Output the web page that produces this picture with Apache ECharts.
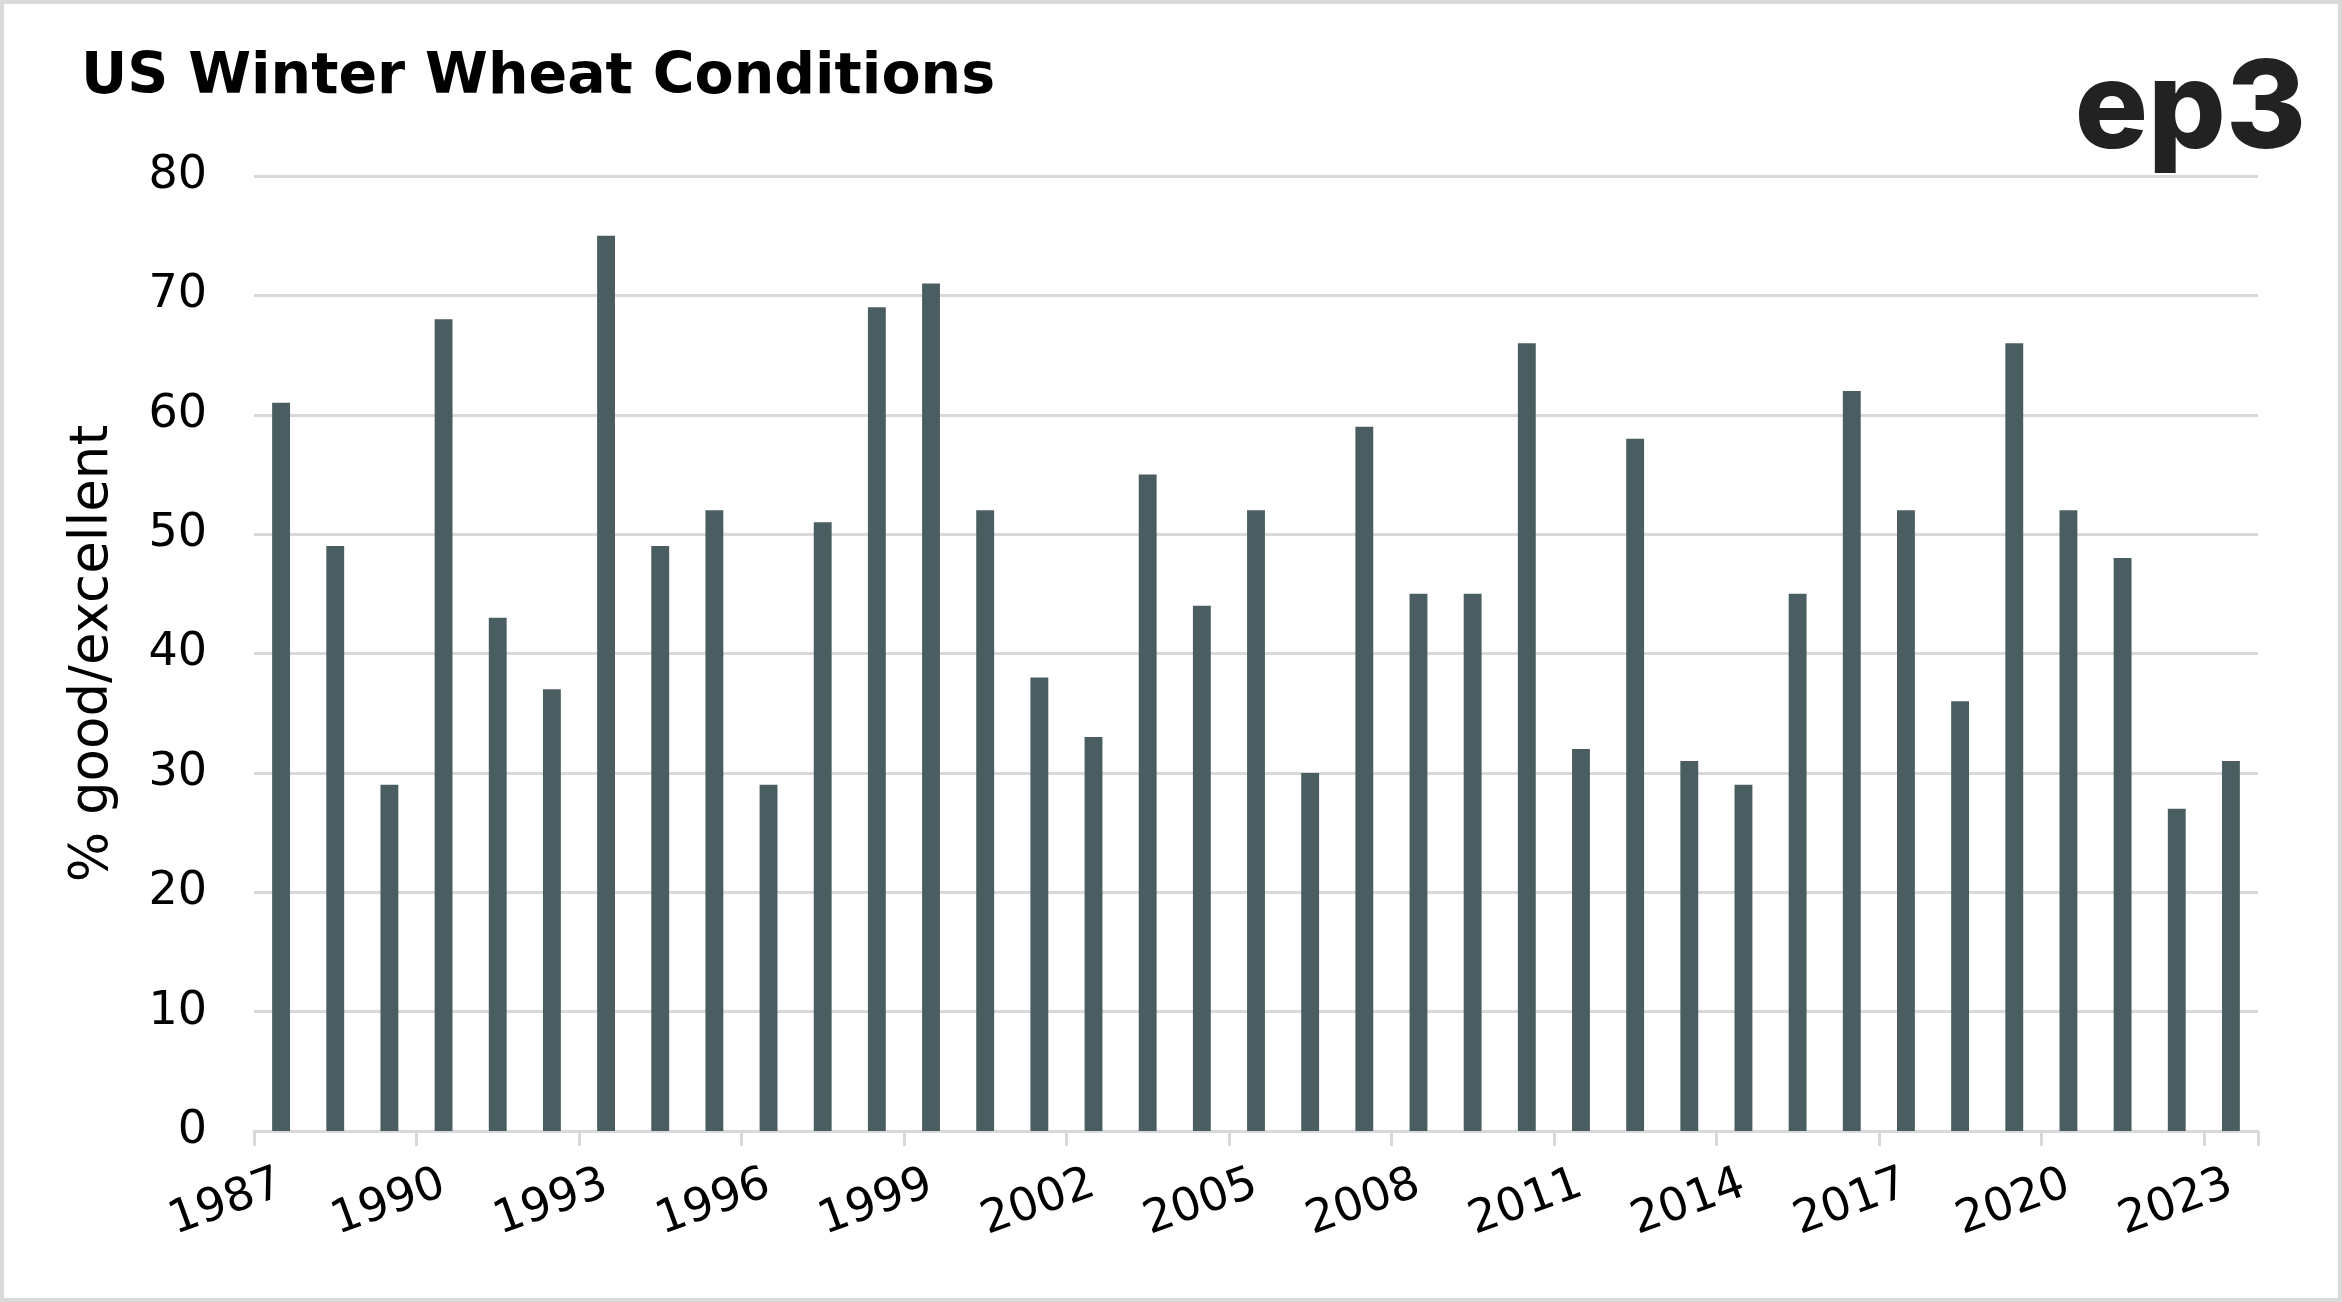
<!DOCTYPE html>
<html>
<head>
<meta charset="utf-8">
<script src="https://cdn.jsdelivr.net/npm/echarts@6/dist/echarts.min.js"></script>
<style>
html,body{margin:0;padding:0;background:#fff;}
#wrap{position:absolute;left:0;top:0;width:2342px;height:1302px;box-sizing:border-box;border:4px solid #d9d9d9;}
#chart{position:absolute;left:0;top:0;width:2342px;height:1302px;}
</style>
</head>
<body>
<div id="chart"></div>
<div id="wrap"></div>
<script>
const years = ['1987','1988','1989','1990','1991','1992','1993','1994','1995','1996','1997','1998','1999','2000','2001','2002','2003','2004','2005','2006','2007','2008','2009','2010','2011','2012','2013','2014','2015','2016','2017','2018','2019','2020','2021','2022','2023'];
const goodExcellent = [61,49,29,68,43,37,75,49,52,29,51,69,71,52,38,33,55,44,52,30,59,45,45,66,32,58,31,29,45,62,52,36,66,52,48,27,31];
const yTicks = [0,10,20,30,40,50,60,70,80];

const chart = echarts.init(document.getElementById('chart'));
chart.setOption({
  backgroundColor: '#ffffff',
  animation: false,
  title: {
    text: 'US Winter Wheat Conditions',
    left: 76, top: 45,
    textStyle: {fontFamily: 'DejaVu Sans', fontWeight: 'bold', fontSize: 57, color: '#000'}
  },
  graphic: [{
    type: 'text', right: 36, top: 50,
    style: {text: 'ep3', fontFamily: 'Inter', fontWeight: 800, fontSize: 122, fill: '#222222'}
  }],
  grid: {left: 254, right: 84, top: 176, bottom: 171, containLabel: false},
  xAxis: {
    type: 'category',
    data: years,
    boundaryGap: true,
    axisLine: {lineStyle: {color: '#d9d9d9', width: 3}},
    axisTick: {show: true, interval: 2, length: 15, lineStyle: {color: '#d9d9d9', width: 3}},
    axisLabel: {interval: 2, rotate: 20, margin: 52, fontFamily: 'DejaVu Sans', fontSize: 46, color: '#000'}
  },
  yAxis: {
    type: 'value',
    min: yTicks[0], max: yTicks[yTicks.length-1], interval: 10,
    name: '% good/excellent',
    nameLocation: 'middle',
    nameGap: 134,
    nameTextStyle: {fontFamily: 'DejaVu Sans', fontSize: 53, color: '#000'},
    axisLine: {show: false},
    axisTick: {show: false},
    splitLine: {lineStyle: {color: '#d9d9d9', width: 3}},
    axisLabel: {margin: 47, fontFamily: 'DejaVu Sans', fontSize: 46, color: '#000'}
  },
  series: [{
    type: 'bar',
    data: goodExcellent,
    barWidth: '33%',
    itemStyle: {color: '#4a5d60'}
  }]
});
</script>
</body>
</html>
